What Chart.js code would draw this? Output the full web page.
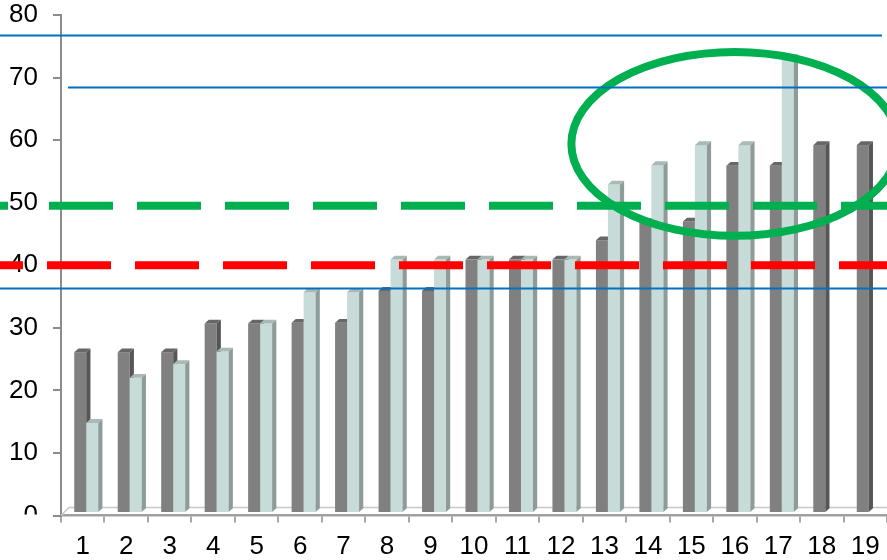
<!DOCTYPE html>
<html>
<head>
<meta charset="utf-8">
<script src="https://cdn.jsdelivr.net/npm/chart.js@4.4.1/dist/chart.umd.min.js"></script>
<style>
  html, body { margin: 0; padding: 0; background: #fff; }
  #wrap { width: 887px; height: 560px; }
</style>
</head>
<body>
<div id="wrap"><canvas id="chart"></canvas></div>
<script>
const categories = ['1', '2', '3', '4', '5', '6', '7', '8', '9', '10',
                    '11', '12', '13', '14', '15', '16', '17', '18', '19'];
const darkValues = [26.1, 26.1, 26.1, 30.7, 30.7, 30.8, 30.8, 35.9, 35.9, 40.9,
                    40.9, 40.9, 44.0, 46.9, 47.0, 55.9, 55.9, 59.2, 59.2];
const lightValues = [14.8, 22.0, 24.2, 26.2, 30.7, 35.7, 35.7, 40.9, 40.9, 40.9,
                     40.9, 40.9, 52.9, 56.0, 59.2, 59.2, 73.1, null, null];
const yMin = 0, yMax = 80, yStep = 10;

// reference lines (value units)
const blueLevels = [76.8, 68.5, 36.4];
const greenLevel = 49.5;
const redLevel = 40.0;
// highlight ring: centre on category index / value, radii in bands / value units
const ringCentre = [15, 59.4];
const ringRadii = [3.76, 14.7];

const FONT = "'Liberation Sans', Arial, sans-serif";
const DEPTH_X = 4.2, DEPTH_Y = 3.8, SHIFT = 3.5, LIFT = 2.5;

const decor = {
  id: 'decor',
  beforeDatasetDraw() {
    return false; // bars are drawn as 3d blocks below
  },
  beforeDatasetsDraw(chart) {
    const {ctx, chartArea: a, scales: {y}} = chart;
    const base = y.getPixelForValue(0);
    ctx.save();
    ctx.strokeStyle = '#c8c8c8';
    ctx.lineWidth = 1.5;
    ctx.beginPath();
    ctx.moveTo(a.left, base);
    ctx.lineTo(a.left + 8, base - 8);
    ctx.lineTo(a.right, base - 8);
    ctx.stroke();
    ctx.restore();
  },
  afterDatasetsDraw(chart) {
    const {ctx, chartArea: a, scales: {x, y}, width} = chart;
    ctx.save();

    // 3d bars
    chart.data.datasets.forEach((ds, di) => {
      const meta = chart.getDatasetMeta(di);
      meta.data.forEach((bar, i) => {
        if (ds.data[i] == null) return;
        const p = bar.getProps(['x', 'y', 'base', 'width'], true);
        const left = p.x - p.width / 2 + SHIFT, right = left + p.width;
        const top = p.y, bottom = p.base - LIFT;
        ctx.fillStyle = ds.backgroundColor;
        ctx.fillRect(left, top, p.width, bottom - top);
        ctx.fillStyle = ds.sideColor;
        ctx.beginPath();
        ctx.moveTo(right, top);
        ctx.lineTo(right + DEPTH_X, top - DEPTH_Y);
        ctx.lineTo(right + DEPTH_X, bottom - DEPTH_Y);
        ctx.lineTo(right, bottom);
        ctx.closePath();
        ctx.fill();
        ctx.fillStyle = ds.topColor;
        ctx.beginPath();
        ctx.moveTo(left, top);
        ctx.lineTo(left + DEPTH_X, top - DEPTH_Y);
        ctx.lineTo(right + DEPTH_X, top - DEPTH_Y);
        ctx.lineTo(right, top);
        ctx.closePath();
        ctx.fill();
      });
    });

    // green ring
    const band = x.getPixelForValue(1) - x.getPixelForValue(0);
    ctx.strokeStyle = '#00b050';
    ctx.lineWidth = 8;
    ctx.beginPath();
    ctx.ellipse(x.getPixelForValue(ringCentre[0]), y.getPixelForValue(ringCentre[1]),
                ringRadii[0] * band, y.getPixelForValue(0) - y.getPixelForValue(ringRadii[1]),
                0, 0, Math.PI * 2);
    ctx.stroke();

    // dashed limits
    const dashed = (level, colour, offset) => {
      ctx.strokeStyle = colour;
      ctx.lineWidth = 8;
      ctx.setLineDash([64, 24]);
      ctx.lineDashOffset = offset;
      ctx.beginPath();
      ctx.moveTo(0, y.getPixelForValue(level));
      ctx.lineTo(width, y.getPixelForValue(level));
      ctx.stroke();
      ctx.setLineDash([]);
    };
    ctx.save();
    ctx.beginPath();
    ctx.rect(0, 0, 8, chart.height);
    ctx.rect(40, 0, width, chart.height);
    ctx.clip();
    dashed(greenLevel, '#00b050', 39);
    ctx.restore();
    dashed(redLevel, '#ff0000', 41);

    // thin blue lines
    const hline = (level, x0, x1) => {
      const py = Math.round(y.getPixelForValue(level)) + 0.5;
      ctx.beginPath();
      ctx.moveTo(x0, py);
      ctx.lineTo(x1, py);
      ctx.stroke();
    };
    ctx.strokeStyle = '#0070c0';
    ctx.lineWidth = 2;
    hline(blueLevels[0], 0, a.right - 5);
    hline(blueLevels[1], a.left + 7, width);
    hline(blueLevels[2], 0, width);

    ctx.restore();
  },
  afterDraw(chart) {
    // the "0" label sits half under the floor
    const {ctx, scales: {y}} = chart;
    ctx.save();
    ctx.fillStyle = '#fff';
    ctx.fillRect(0, y.getPixelForValue(0) - 1, 52, 18);
    ctx.restore();
  }
};

new Chart(document.getElementById('chart'), {
  type: 'bar',
  data: {
    labels: categories,
    datasets: [
      { data: darkValues, backgroundColor: '#808080', sideColor: '#565656', topColor: '#676767' },
      { data: lightValues, backgroundColor: '#c7dbd8', sideColor: '#8d9b99', topColor: '#a8b9b6' }
    ]
  },
  options: {
    responsive: true,
    maintainAspectRatio: false,
    devicePixelRatio: 1,
    animation: false,
    layout: { padding: { top: 15, left: 0, right: 0, bottom: 0 } },
    categoryPercentage: 0.552,
    barPercentage: 1,
    plugins: { legend: { display: false }, tooltip: { enabled: false } },
    scales: {
      x: {
        offset: true,
        grid: { offset: true, drawOnChartArea: false, drawTicks: true, tickLength: 7, color: '#a6a6a6', lineWidth: 2 },
        border: { color: '#a0a0a0', width: 2.5 },
        ticks: { color: '#000', padding: 9, maxRotation: 0, autoSkip: false, font: { family: FONT, size: 26 } },
        afterFit(scale) {
          scale.height = 44.5;
          scale.paddingLeft = 0;
          scale.paddingRight = 0;
        }
      },
      y: {
        min: yMin,
        max: yMax,
        grid: { drawOnChartArea: false, drawTicks: true, tickLength: 8, color: '#8c8c8c', lineWidth: 2 },
        border: { color: '#8c8c8c', width: 2 },
        ticks: { stepSize: yStep, color: '#000', padding: 15, font: { family: FONT, size: 26 } },
        afterFit(scale) {
          scale.width = 61;
          scale.paddingTop = 0;
          scale.paddingBottom = 0;
        }
      }
    }
  },
  plugins: [decor]
});
</script>
</body>
</html>
